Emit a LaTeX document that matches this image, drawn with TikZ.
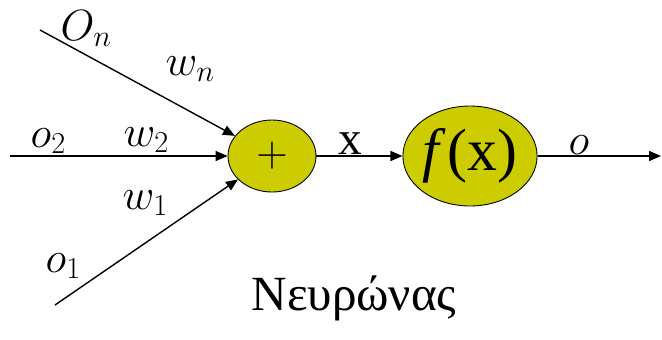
\documentclass[tikz,border=0pt]{standalone}
\usepackage{fontspec}
\setmainfont{Liberation Serif}
\usetikzlibrary{shapes.geometric,arrows.meta}
\definecolor{neuronfill}{RGB}{204,204,0}

\begin{document}
\begin{tikzpicture}[x=0.02cm, y=-0.02cm, every node/.style={align=center}, font=\fontsize{25}{30}\selectfont, >={Triangle[length=0.24cm,width=0.2cm]}, line width=0.8pt,
    unit/.style={draw, ellipse, fill=neuronfill, line width=0.5pt, inner sep=0pt},
    wlabel/.style={inner sep=0pt, anchor=base west}]
    \useasboundingbox (0,0) rectangle (662,339);

    \node[unit, minimum width=1.76cm, minimum height=1.44cm] (sum) at (272,156) {$+$};
    \node[unit, minimum width=2.66cm, minimum height=2cm, font=\fontsize{34}{38}\selectfont] (act) at (470,156) {\textit{f}\kern1pt(x)};

    \coordinate (inn) at (40,30);
    \coordinate (in2) at (10,156);
    \coordinate (in1) at (55,305);
    \coordinate (out) at (661,156);

    \draw[->] (inn) -- (sum);
    \draw[->] (in2) -- (sum);
    \draw[->] (in1) -- (sum);
    \draw[->] (sum) -- (act);
    \draw[->] (act) -- (out);

    \node[wlabel] (lon) at (60,40) {$O_n$};
    \node[wlabel] (lwn) at (165,75) {$w_n$};
    \node[wlabel] (lo2) at (30,147) {$o_2$};
    \node[wlabel] (lw2) at (123,146) {$w_2$};
    \node[wlabel] (lw1) at (122,209) {$w_1$};
    \node[wlabel] (lo1) at (45,272) {$o_1$};
    \node[wlabel, font=\fontsize{27}{32}\selectfont] (lx) at (338,154) {x};
    \node[wlabel] (lo) at (568,154) {$o$};

    \node[font=\fontsize{28}{34}\selectfont] (title) at (354,298) {Νευρώνας};
\end{tikzpicture}
\end{document}
